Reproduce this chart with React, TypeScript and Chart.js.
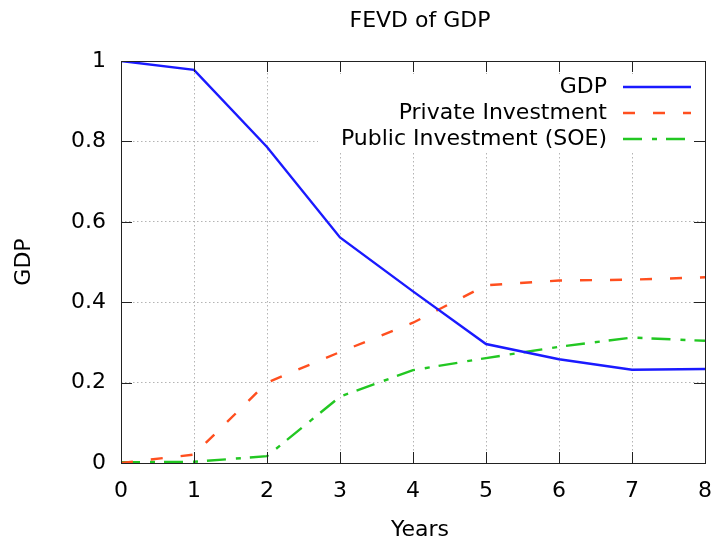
import React, { useEffect, useRef } from "react";
import { Chart, registerables } from "chart.js";

Chart.register(...registerables);

// ---- data ----
const years = [0, 1, 2, 3, 4, 5, 6, 7, 8];
const gdpShare = [1.0, 0.978, 0.786, 0.561, 0.427, 0.296, 0.258, 0.232, 0.234];
const privateShare = [0.0, 0.021, 0.2, 0.276, 0.349, 0.442, 0.454, 0.456, 0.462];
const publicShare = [0.002, 0.003, 0.017, 0.165, 0.231, 0.261, 0.289, 0.312, 0.304];
const seriesNames = ["GDP", "Private Investment", "Public Investment (SOE)"];
const yTickValues = [0, 0.2, 0.4, 0.6, 0.8, 1];

const FONT = "'DejaVu Sans', Verdana, sans-serif";
const FONT_SIZE = 22;

export default function App() {
  const ref = useRef<HTMLCanvasElement>(null);

  useEffect(() => {
    const canvas = ref.current;
    if (!canvas) return;

    const gnuplotPlugin = {
      id: "gnuplotDecor",
      beforeDatasetsDraw(chart: any) {
        const { ctx, chartArea } = chart;
        // opaque key box
        ctx.save();
        ctx.fillStyle = "#ffffff";
        ctx.fillRect(318, chartArea.top + 13, chartArea.right - 1 - 318, 153 - (chartArea.top + 13));
        ctx.restore();
      },
      afterDatasetsDraw(chart: any) {
        const { ctx, chartArea } = chart;
        ctx.save();
        ctx.font = `${FONT_SIZE}px ${FONT}`;
        ctx.textAlign = "right";
        ctx.textBaseline = "middle";
        chart.data.datasets.forEach((ds: any, i: number) => {
          const y = chartArea.top + 26 + i * 26;
          ctx.fillStyle = "#000";
          ctx.fillText(ds.label, chartArea.right - 98, y);
          ctx.beginPath();
          ctx.strokeStyle = ds.borderColor;
          ctx.lineWidth = ds.borderWidth;
          ctx.lineCap = "butt";
          ctx.setLineDash(ds.borderDash || []);
          ctx.moveTo(chartArea.right - 82, y);
          ctx.lineTo(chartArea.right - 14, y);
          ctx.stroke();
        });
        ctx.restore();
      },
      afterDraw(chart: any) {
        const { ctx, chartArea } = chart;
        const { left, right, top, bottom } = chartArea;
        const xs = chart.scales.x;
        const ys = chart.scales.y;
        const tl = 11;
        ctx.save();
        ctx.strokeStyle = "#222";
        ctx.lineWidth = 1;
        ctx.setLineDash([]);
        ctx.beginPath();
        xs.ticks.forEach((t: any) => {
          const px = Math.round(xs.getPixelForValue(t.value)) + 0.5;
          ctx.moveTo(px, bottom);
          ctx.lineTo(px, bottom - tl);
          ctx.moveTo(px, top);
          ctx.lineTo(px, top + tl);
        });
        ys.ticks.forEach((t: any) => {
          const py = Math.round(ys.getPixelForValue(t.value)) + 0.5;
          ctx.moveTo(left, py);
          ctx.lineTo(left + tl, py);
          ctx.moveTo(right, py);
          ctx.lineTo(right - tl, py);
        });
        ctx.stroke();
        ctx.strokeRect(Math.round(left) + 0.5, Math.round(top) + 0.5, Math.round(right - left), Math.round(bottom - top));
        // titles
        ctx.fillStyle = "#000";
        ctx.font = `${FONT_SIZE}px ${FONT}`;
        ctx.textAlign = "center";
        ctx.textBaseline = "middle";
        ctx.fillText("FEVD of GDP", 420, 21);
        ctx.fillText("Years", 420, 530);
        ctx.restore();
      },
    };

    const chart = new Chart(canvas, {
      type: "line",
      data: {
        labels: years,
        datasets: [
          {
            label: seriesNames[0],
            data: years.map((x, i) => ({ x, y: gdpShare[i] })),
            borderColor: "#1a1aff",
            borderWidth: 2.4,
            borderDash: [],
            pointRadius: 0,
            tension: 0,
            fill: false,
          },
          {
            label: seriesNames[1],
            data: years.map((x, i) => ({ x, y: privateShare[i] })),
            borderColor: "#ff4f1f",
            borderWidth: 2.4,
            borderDash: [12, 18],
            borderCapStyle: "butt",
            pointRadius: 0,
            tension: 0,
            fill: false,
          },
          {
            label: seriesNames[2],
            data: years.map((x, i) => ({ x, y: publicShare[i] })),
            borderColor: "#22c722",
            borderWidth: 2.4,
            borderDash: [19, 10, 5, 9],
            borderCapStyle: "butt",
            pointRadius: 0,
            tension: 0,
            fill: false,
          },
        ],
      },
      options: {
        animation: false,
        responsive: true,
        maintainAspectRatio: false,
        layout: { padding: { left: 0, right: 0, top: 61, bottom: 0 } },
        plugins: {
          legend: { display: false },
          title: { display: false },
          tooltip: { enabled: false },
        },
        scales: {
          x: {
            type: "linear",
            min: 0,
            max: 8,
            ticks: {
              stepSize: 1,
              padding: 15,
              color: "#000",
              font: { family: FONT, size: FONT_SIZE },
              maxRotation: 0,
            },
            grid: { drawTicks: false, color: "#b4b4b4", lineWidth: 1 },
            border: { display: false, dash: [1.5, 2.5] },
            afterFit: (s: any) => {
              s.height = 80;
              s.paddingLeft = 0;
              s.paddingRight = 10;
            },
          },
          y: {
            type: "linear",
            min: 0,
            max: 1,
            afterBuildTicks: (s: any) => {
              s.ticks = yTickValues.map((v) => ({ value: v }));
            },
            ticks: {
              padding: 15,
              color: "#000",
              font: { family: FONT, size: FONT_SIZE },
              callback: (v: any) => String(Number(Number(v).toFixed(1))),
            },
            grid: { drawTicks: false, color: "#b4b4b4", lineWidth: 1 },
            border: { display: false, dash: [1.5, 2.5] },
            title: {
              display: true,
              text: "GDP",
              color: "#000",
              font: { family: FONT, size: FONT_SIZE },
              padding: { top: 11, bottom: 0 },
            },
            afterFit: (s: any) => {
              s.width = 121;
              s.paddingTop = 0;
              s.paddingBottom = 0;
            },
          },
        },
      },
      plugins: [gnuplotPlugin],
    } as any);

    return () => chart.destroy();
  }, []);

  return (
    <div style={{ position: "absolute", left: 0, top: 0, width: 715, height: 543, background: "#fff" }}>
      <canvas ref={ref} />
    </div>
  );
}
